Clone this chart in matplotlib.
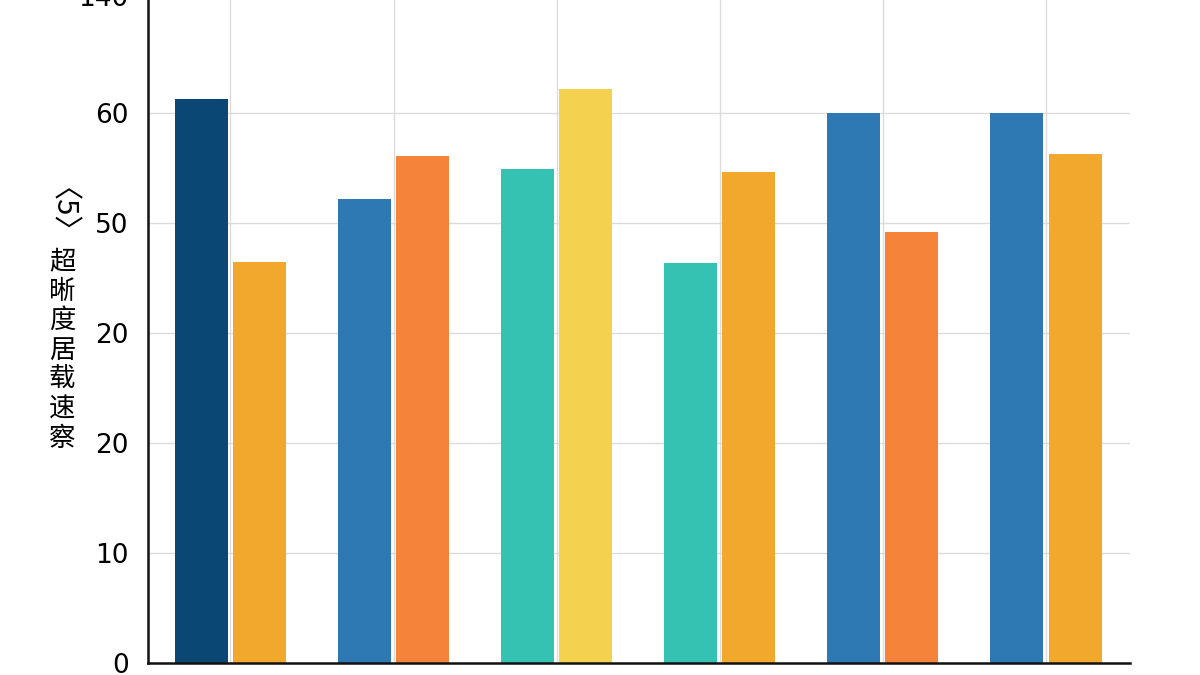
import matplotlib
matplotlib.use("Agg")
import matplotlib.pyplot as plt
import numpy as np

# ---- data ----
groups = ["A", "B", "C", "D", "E", "F"]
series1 = [51.3, 42.2, 44.9, 36.4, 50.0, 50.0]
series2 = [36.5, 46.1, 52.2, 44.6, 39.2, 46.3]
colors1 = ["#0B4774", "#2E78B3", "#36C2B2", "#36C2B2", "#2E78B3", "#2E78B3"]
colors2 = ["#F2A82C", "#F5843A", "#F4D250", "#F2A82C", "#F5843A", "#F2A82C"]
ytick_vals = [0, 10, 20, 30, 40, 50, 60.6]
ytick_labels = ["0", "10", "20", "20", "50", "60", "140"]
ylabel_rot = "〈5〉"
ylabel_chars = "超晰度居载速察"

plt.rcParams["font.family"] = ["DejaVu Sans", "Noto Sans CJK SC"]

W, H = 1200, 675
fig = plt.figure(figsize=(12, 6.75), dpi=100)
left_px, right_px, bottom_px, top_px = 148, 1130, 663, -8
ax = fig.add_axes([left_px / W, (H - bottom_px) / H,
                   (right_px - left_px) / W, (bottom_px - top_px) / H])

x = np.arange(len(groups))
bw = 0.325
off = 0.178
ax.bar(x - off, series1, width=bw, color=colors1, zorder=3)
ax.bar(x + off, series2, width=bw, color=colors2, zorder=3)

ax.set_xlim(-0.505, 5.515)
ax.set_ylim(0, (bottom_px - top_px) / 11.0)
ax.set_yticks(ytick_vals)
ax.set_yticklabels(ytick_labels)
ax.set_xticks(x)
ax.set_xticklabels([])
ax.tick_params(axis="both", length=0)
ax.tick_params(axis="y", labelsize=19, pad=14)

ax.grid(True, color="#dcdcdc", linewidth=1.0, zorder=0)
ax.set_axisbelow(True)
for s in ["top", "right"]:
    ax.spines[s].set_visible(False)
for s in ["left", "bottom"]:
    ax.spines[s].set_color("#111111")
    ax.spines[s].set_linewidth(1.8)
    ax.spines[s].set_zorder(4)

# y label: rotated bracket part + stacked upright characters
cjk = ["Noto Sans CJK SC", "DejaVu Sans"]
fig.text(47 / W, 1 - 224 / H, ylabel_rot, rotation=-90, ha="center", va="center",
         fontsize=21, family=cjk, weight="medium")
fig.text(62 / W, 1 - 248 / H, "\n".join(ylabel_chars), ha="center", va="top",
         fontsize=19, linespacing=1.12, family=cjk, weight="medium")

fig.savefig("out.png", dpi=100)
